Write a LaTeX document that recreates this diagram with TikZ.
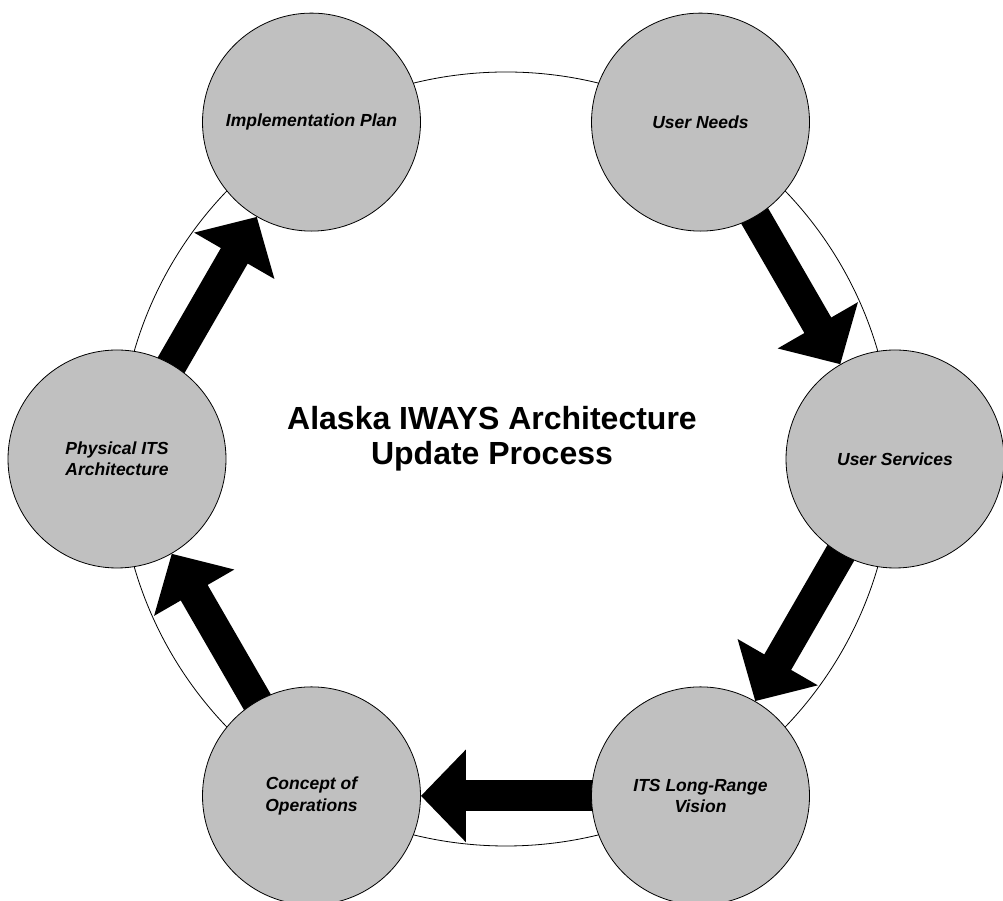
\documentclass[tikz,border=0pt]{standalone}
\usepackage{fontspec}
\setmainfont{Liberation Sans}
\usetikzlibrary{arrows.meta,backgrounds}
\definecolor{stepgray}{RGB}{192,192,192}
\tikzset{x=1pt, y=1pt,
  phase/.style={circle, draw, line width=0.8pt, fill=stepgray, minimum size=218pt,
    inner sep=0pt, align=center, font=\fontsize{17.5}{21.5}\selectfont\bfseries\itshape},
  flow/.style={line width=31pt, -{Triangle[length=45pt,width=90pt]}, shorten <=-12pt},
  title/.style={align=center, font=\fontsize{32}{35}\selectfont\bfseries}}

\begin{document}
\begin{tikzpicture}

           \useasboundingbox (0,0) rectangle (1003,901);
           \coordinate (C) at (506,442);

           \path (C) ++(0:389pt) node[phase] (US) {User Services};
           \path (C) ++(60:389pt) node[phase] (UN) {User Needs};
           \path (C) ++(120:389pt) node[phase] (IP) {Implementation Plan};
           \path (C) ++(180:389pt) node[phase] (PA) {Physical ITS\\Architecture};
           \path (C) ++(240:389pt) node[phase] (CO) {Concept of\\Operations};
           \path (C) ++(300:389pt) node[phase] (LR) {ITS Long-Range\\Vision};
           \node[title] (T) at (492,462) {Alaska IWAYS Architecture\\Update Process};

           \begin{pgfonlayer}{background}
           \draw[line width=0.8pt] (C) circle[radius=387pt];
           \draw[flow] (UN) -- (US);
           \draw[flow] (US) -- (LR);
           \draw[flow] (LR) -- (CO);
           \draw[flow] (CO) -- (PA);
           \draw[flow] (PA) -- (IP);
           \end{pgfonlayer}

         \end{tikzpicture}
\end{document}
